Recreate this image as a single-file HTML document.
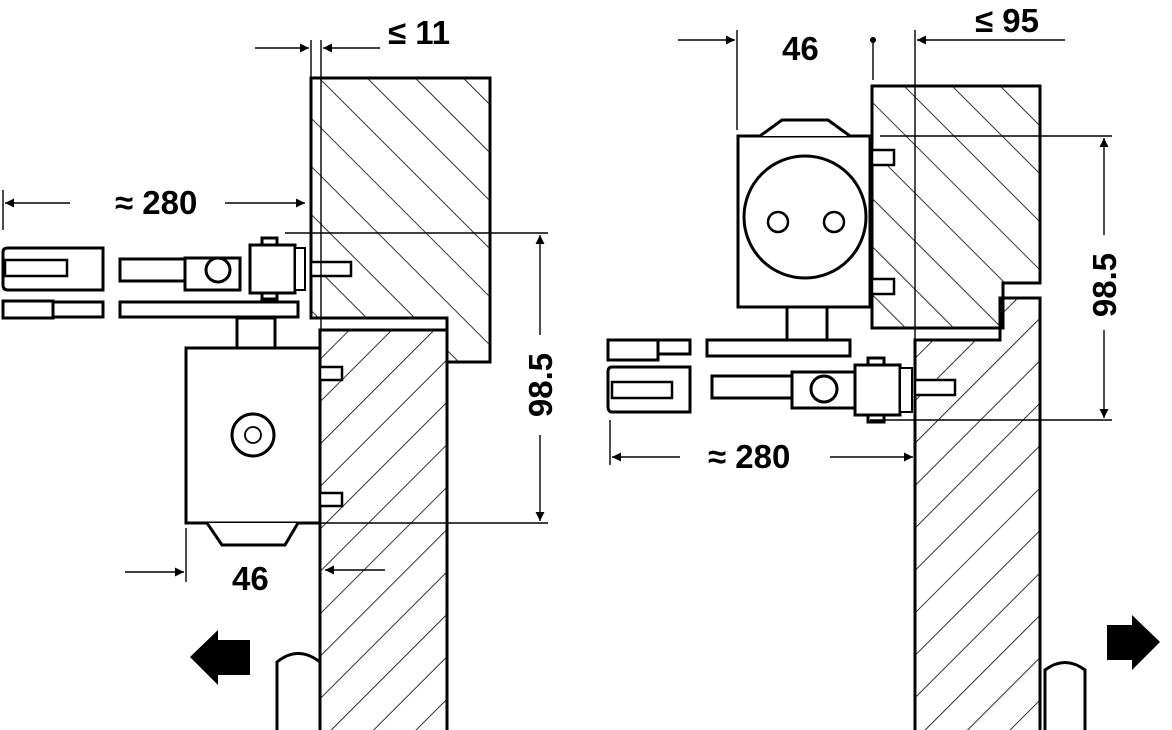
<!DOCTYPE html><html><head><style>html,body{margin:0;padding:0;background:#fff}svg{display:block}</style></head><body>
<svg width="1172" height="730" viewBox="0 0 1172 730" xmlns="http://www.w3.org/2000/svg" font-family="Liberation Sans, sans-serif" font-weight="bold">
<defs>
<pattern id="hb" patternUnits="userSpaceOnUse" width="34" height="34" patternTransform="rotate(-45)"><line x1="0" y1="0" x2="0" y2="34" stroke="#000" stroke-width="1.6"/></pattern>
<pattern id="hf" patternUnits="userSpaceOnUse" width="30" height="30" patternTransform="rotate(45)"><line x1="0" y1="0" x2="0" y2="30" stroke="#000" stroke-width="1.6"/></pattern>
<marker id="a" viewBox="0 0 10 10" refX="10" refY="5" markerWidth="20" markerHeight="9" markerUnits="userSpaceOnUse" orient="auto"><path d="M0 0L10 5L0 10z"/></marker>
</defs>
<g fill="none" stroke="#000" stroke-width="3">
<path d="M311 78H490V362H447V318H311Z" fill="url(#hb)"/>
<rect x="320" y="330" width="127" height="410" fill="url(#hf)"/>
<rect x="186" y="348" width="134" height="175" fill="#fff"/>
<path d="M207 523L222 545H285L298 523" fill="#fff"/>
<rect x="237" y="318" width="38" height="30" fill="#fff"/>
<circle cx="253" cy="435" r="21"/><circle cx="253" cy="435" r="8" stroke-width="1.8"/>
<rect x="320" y="367" width="22" height="13" fill="#fff" stroke-width="2.5"/><rect x="320" y="493" width="22" height="13" fill="#fff" stroke-width="2.5"/>
<path d="M3 252Q3 248 8 248H103V290H8Q3 290 3 285Z" fill="#fff"/>
<rect x="5" y="260" width="62" height="16" stroke-width="2.5"/>
<rect x="3" y="301" width="50" height="17" fill="#fff"/><rect x="53" y="302" width="50" height="15" fill="#fff"/>
<rect x="120" y="259" width="65" height="22" fill="#fff"/>
<rect x="120" y="302" width="178" height="15" fill="#fff"/>
<path d="M185 258H240V290H185Z" fill="#fff"/>
<circle cx="218" cy="270" r="12" fill="#fff"/>
<rect x="250" y="245" width="45" height="48" fill="#fff"/><rect x="262" y="238" width="15" height="7" fill="#fff"/><rect x="262" y="293" width="15" height="6" fill="#fff"/>
<rect x="295" y="248" width="10" height="42" fill="#fff" stroke-width="2"/>
<rect x="311" y="262" width="40" height="14" fill="#fff" stroke-width="2.5"/>
<path d="M872 86H1040V283H1003V328H872Z" fill="url(#hb)"/>
<path d="M915 340H1000V298H1040V740H915Z" fill="url(#hf)"/>
<rect x="738" y="136" width="132" height="171" fill="#fff"/>
<path d="M760 136L782 120H828L850 136" fill="#fff"/>
<circle cx="805" cy="217" r="61"/><circle cx="778" cy="222" r="10" stroke-width="2.5"/><circle cx="834" cy="222" r="10" stroke-width="2.5"/>
<rect x="872" y="150" width="22" height="15" fill="#fff" stroke-width="2.5"/><rect x="872" y="279" width="22" height="15" fill="#fff" stroke-width="2.5"/>
<rect x="787" y="307" width="40" height="33" fill="#fff"/>
<rect x="707" y="340" width="143" height="16" fill="#fff"/>
<rect x="608" y="340" width="50" height="20" fill="#fff"/><rect x="658" y="340" width="32" height="14" fill="#fff"/>
<path d="M612 367H690V412H612Q608 412 608 406V372Q608 367 612 367Z" fill="#fff"/>
<rect x="612" y="382" width="60" height="16" stroke-width="2.5"/>
<rect x="712" y="376" width="80" height="22" fill="#fff"/>
<path d="M792 372H855V408H792Z" fill="#fff"/>
<circle cx="824" cy="389" r="13" fill="#fff"/>
<rect x="855" y="365" width="45" height="50" fill="#fff"/><rect x="868" y="358" width="16" height="7" fill="#fff"/><rect x="868" y="415" width="16" height="7" fill="#fff"/>
<rect x="900" y="368" width="12" height="44" fill="#fff" stroke-width="2"/>
<rect x="915" y="380" width="40" height="15" fill="#fff" stroke-width="2.5"/>
<path d="M277 730V662Q298 645 320 662V730" fill="#fff"/>
<path d="M1045 730V670Q1065 655 1085 670V730" fill="#fff"/>
</g>
<g stroke="#000" stroke-width="1.4" fill="none">
<line x1="311" y1="40" x2="311" y2="78"/><line x1="321" y1="40" x2="321" y2="330"/>
<line x1="255" y1="48" x2="309" y2="48" marker-end="url(#a)"/><line x1="380" y1="48" x2="323" y2="48" marker-end="url(#a)"/>
<line x1="3" y1="190" x2="3" y2="230"/>
<line x1="70" y1="203" x2="5" y2="203" marker-end="url(#a)"/><line x1="225" y1="203" x2="305" y2="203" marker-end="url(#a)"/>
<line x1="285" y1="233" x2="548" y2="233"/><line x1="320" y1="523" x2="548" y2="523"/>
<line x1="540" y1="335" x2="540" y2="235" marker-end="url(#a)"/><line x1="540" y1="435" x2="540" y2="521" marker-end="url(#a)"/>
<line x1="186" y1="528" x2="186" y2="582"/>
<line x1="125" y1="572" x2="184" y2="572" marker-end="url(#a)"/><line x1="385" y1="570" x2="325" y2="570" marker-end="url(#a)"/>
<line x1="737" y1="30" x2="737" y2="130"/><line x1="678" y1="40" x2="735" y2="40" marker-end="url(#a)"/>
<line x1="873" y1="40" x2="873" y2="80"/><line x1="915" y1="30" x2="915" y2="340"/>
<line x1="1065" y1="40" x2="917" y2="40" marker-end="url(#a)"/>
<line x1="880" y1="136" x2="1112" y2="136"/><line x1="870" y1="420" x2="1112" y2="420"/>
<line x1="1104" y1="235" x2="1104" y2="138" marker-end="url(#a)"/><line x1="1104" y1="330" x2="1104" y2="418" marker-end="url(#a)"/>
<line x1="610" y1="420" x2="610" y2="465"/>
<line x1="680" y1="457" x2="612" y2="457" marker-end="url(#a)"/><line x1="830" y1="457" x2="913" y2="457" marker-end="url(#a)"/>
</g>
<circle cx="873" cy="40" r="3"/>
<path d="M190 657L218 630V640H250V675H218V685Z"/>
<path d="M1160 642L1132 615V625H1107V660H1132V670Z"/>
<g font-size="33" fill="#000">
<text x="388" y="44">≤ 11</text>
<text x="975" y="32">≤ 95</text>
<text x="115" y="214">≈ 280</text>
<text x="708" y="468">≈ 280</text>
<text x="232" y="590">46</text>
<text x="782" y="60">46</text>
<text transform="translate(552,385) rotate(-90)" text-anchor="middle">98.5</text>
<text transform="translate(1116,285) rotate(-90)" text-anchor="middle">98.5</text>
</g>
</svg>
</body></html>
